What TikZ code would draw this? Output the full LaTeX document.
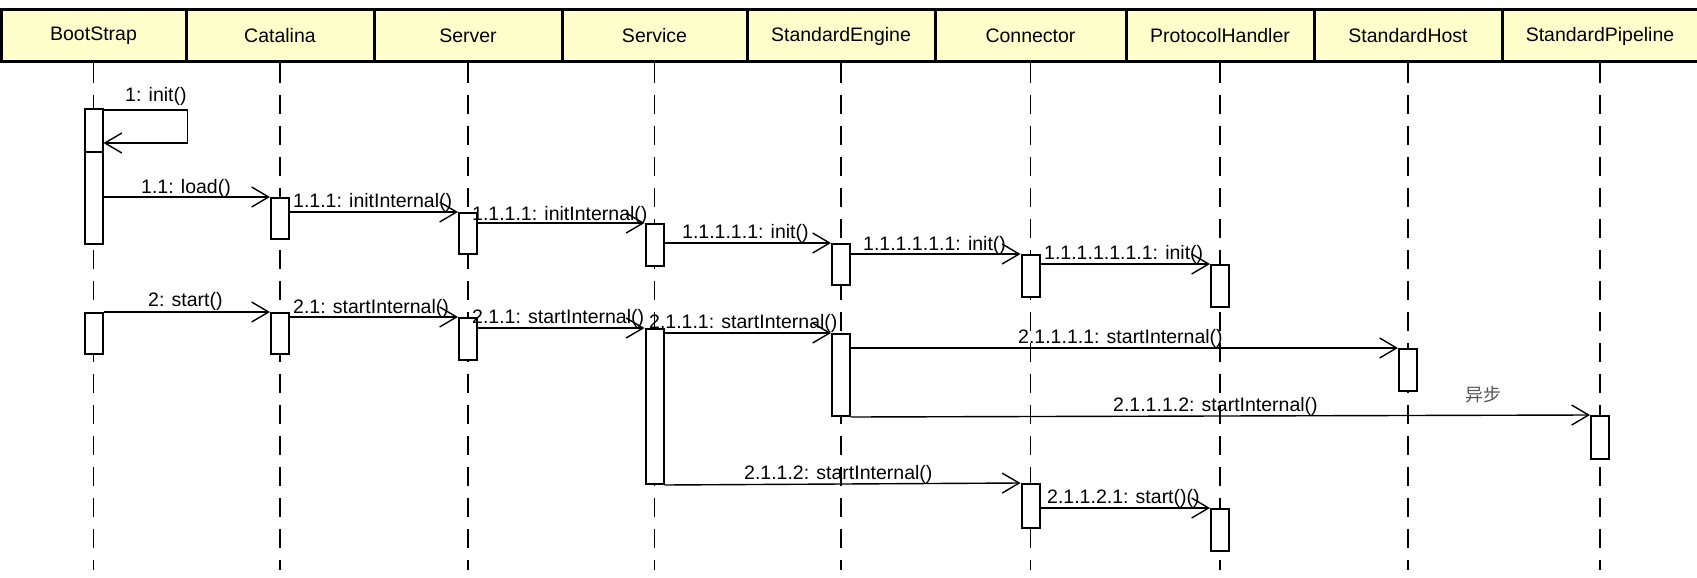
\documentclass[tikz,border=0pt]{standalone}
\usepackage{fontspec}
\setmainfont{Liberation Sans}
\newfontfamily\cjk{Noto Sans CJK SC}
\usetikzlibrary{arrows.meta,calc}
\definecolor{hdrfill}{HTML}{FFFFCC}
\definecolor{notegray}{HTML}{555555}
\begin{document}
\begin{tikzpicture}[x=1pt,y=-1pt,
  hdr/.style={draw=black, line width=3pt, fill=hdrfill, minimum height=52pt, inner sep=0pt, font=\fontsize{19.5}{22}\selectfont},
  act/.style={draw=black, line width=2pt, fill=white, minimum width=18pt, inner sep=0pt},
  lifeline/.style={line width=1.5pt, dash pattern=on 19pt off 12pt},
  msg/.style={line width=1.4pt, -{Straight Barb[length=17pt,width=20pt,line width=1.4pt]}},
  lbl/.style={anchor=base west, inner sep=0pt, font=\fontsize{19.5}{22}\selectfont},
  note/.style={inner sep=0pt, text=notegray, font=\cjk\fontsize{18}{20}\selectfont}
]
\useasboundingbox[fill=white] (0,0) rectangle (1697,578);
% headers
\node[hdr, minimum width=185pt] (hB) at (93.5,36) {BootStrap};
\node[hdr, minimum width=188pt] (hC) at (280,36) {Catalina};
\node[hdr, minimum width=188pt] (hS) at (468,36) {Server};
\node[hdr, minimum width=185pt] (hV) at (654.5,36) {Service};
\node[hdr, minimum width=188pt] (hE) at (841,36) {StandardEngine};
\node[hdr, minimum width=191pt] (hN) at (1030.5,36) {Connector};
\node[hdr, minimum width=188pt] (hP) at (1220,36) {ProtocolHandler};
\node[hdr, minimum width=188pt] (hH) at (1408,36) {StandardHost};
\node[hdr, minimum width=196pt] (hL) at (1600,36) {StandardPipeline};
% lifelines
\coordinate (bot) at (0,570);
\foreach \h in {hB,hC,hS,hV,hE,hN,hP,hH,hL}{
  \draw[lifeline] (\h.south) -- (\h.south |- bot);
}
% activations
\node[act, minimum height=135pt] (b1) at (93.5,176.5) {};
\node[act, minimum height=41pt] (b2) at (93.5,333.5) {};
\node[act, minimum height=41pt] (c1) at (280,218.5) {};
\node[act, minimum height=41pt] (c2) at (280,333.5) {};
\node[act, minimum height=41pt] (s1) at (468,233.5) {};
\node[act, minimum height=42pt] (s2) at (468,339) {};
\node[act, minimum height=42pt] (v1) at (654.5,245) {};
\node[act, minimum height=155pt] (v2) at (654.5,406.5) {};
\node[act, minimum height=41pt] (e1) at (841,264.5) {};
\node[act, minimum height=82pt] (e2) at (841,375) {};
\node[act, minimum height=42pt] (n1) at (1030.5,276) {};
\node[act, minimum height=44pt] (n2) at (1030.5,506) {};
\node[act, minimum height=42pt] (p1) at (1220,286) {};
\node[act, minimum height=42pt] (p2) at (1220,530) {};
\node[act, minimum height=42pt] (h1) at (1408,370) {};
\node[act, minimum height=43pt] (l1) at (1600,437.5) {};
\draw[line width=2pt] ([yshift=-44pt]b1.north west) -- ([yshift=-44pt]b1.north east);
% messages
\draw[msg] ([yshift=-2pt]b1.north east) -- ++(84,0) -- ++(0,33) -- ([yshift=-35pt]b1.north east);
\draw[msg] (b1.east |- c1.north west) -- (c1.north west);
\draw[msg] (c1.east |- s1.north west) -- (s1.north west);
\draw[msg] (s1.east |- v1.north west) -- (v1.north west);
\draw[msg] (v1.east |- e1.north west) -- (e1.north west);
\draw[msg] (e1.east |- n1.north west) -- (n1.north west);
\draw[msg] (n1.east |- p1.north west) -- (p1.north west);
\draw[msg] (b2.north east) -- (c2.north west);
\draw[msg] (c2.east |- s2.north west) -- (s2.north west);
\draw[msg] (s2.east |- v2.north west) -- (v2.north west);
\draw[msg] (v2.east |- e2.north west) -- (e2.north west);
\draw[msg] (e2.east |- h1.north west) -- (h1.north west);
\draw[msg] (e2.south east) -- (l1.north west);
\draw[msg] (v2.south east) -- (n2.north west);
\draw[msg] (n2.east |- p2.north west) -- (p2.north west);
% labels
\node[lbl] (t1) at (125,101) {1: init()};
\node[lbl] (t2) at (141,193) {1.1: load()};
\node[lbl] (t3) at (293,207) {1.1.1: initInternal()};
\node[lbl] (t4) at (472,220) {1.1.1.1: initInternal()};
\node[lbl] (t5) at (682,238) {1.1.1.1.1: init()};
\node[lbl] (t6) at (863,250) {1.1.1.1.1.1: init()};
\node[lbl] (t7) at (1044,259) {1.1.1.1.1.1.1: init()};
\node[lbl] (t8) at (148,306) {2: start()};
\node[lbl] (t9) at (293,313) {2.1: startInternal()};
\node[lbl] (t10) at (472,323) {2.1.1: startInternal()};
\node[lbl] (t11) at (649,328) {2.1.1.1: startInternal()};
\node[lbl] (t12) at (1018,343) {2.1.1.1.1: startInternal()};
\node[lbl] (t13) at (1113,411) {2.1.1.1.2: startInternal()};
\node[lbl] (t14) at (744,479) {2.1.1.2: startInternal()};
\node[lbl] (t15) at (1047,503) {2.1.1.2.1: start()()};
\node[note] (t16) at (1483,395) {异步};
\end{tikzpicture}
\end{document}
